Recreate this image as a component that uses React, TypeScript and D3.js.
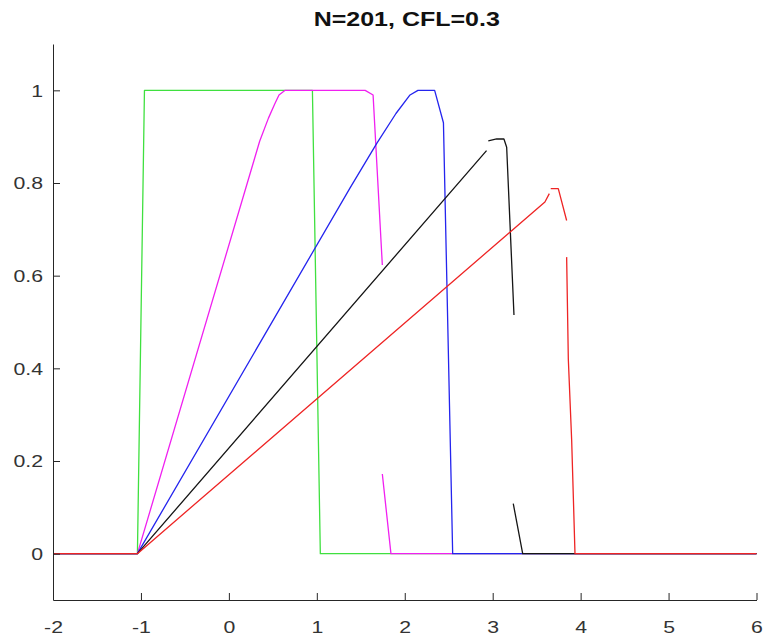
import React, { useRef, useEffect } from 'react';
import * as d3 from 'd3';

type Pt = [number, number] | null;

const title = 'N=201, CFL=0.3';
const xTicks = [-2, -1, 0, 1, 2, 3, 4, 5, 6];
const yTicks = [0, 0.2, 0.4, 0.6, 0.8, 1];

// null marks a break in the plotted line
const greenPts: Pt[] = [[-2, 0], [-1.04, 0], [-0.96, 1], [0.95, 1], [1.04, 0], [6, 0]];
const magentaPts: Pt[] = [
  [-2, 0], [-1.04, 0], [0.35, 0.89], [0.45, 0.94], [0.52, 0.97], [0.57, 0.99], [0.64, 1],
  [1.55, 1], [1.64, 0.99], [1.745, 0.623], null, [1.745, 0.172], [1.843, 0], [6, 0],
];
const bluePts: Pt[] = [
  [-2, 0], [-1.04, 0], [1.38, 0.79], [1.68, 0.885], [1.9, 0.95], [2.06, 0.99], [2.15, 1],
  [2.34, 1], [2.44, 0.93], [2.545, 0], [6, 0],
];
const blackPts: Pt[] = [
  [-2, 0], [-1.04, 0], [2.93, 0.87], null, [2.95, 0.891], [3.045, 0.895], [3.128, 0.895],
  [3.159, 0.877], [3.242, 0.515], null, [3.234, 0.108], [3.341, 0], [6, 0],
];
const redPts: Pt[] = [
  [-2, 0], [-1.04, 0], [3.594, 0.759], [3.644, 0.777], null, [3.66, 0.788], [3.746, 0.788],
  [3.841, 0.719], null, [3.841, 0.64], [3.86, 0.42], [3.898, 0.246], [3.936, 0], [6, 0],
];

const series = [
  { pts: greenPts, color: '#3fe03f' },
  { pts: magentaPts, color: '#f020f0' },
  { pts: bluePts, color: '#2424ee' },
  { pts: blackPts, color: '#151515' },
  { pts: redPts, color: '#ee2424' },
];

const W = 767, H = 638;
const stretch = 1.25; // the reference text is horizontally stretched
const font = '"Liberation Sans", Arial, Helvetica, sans-serif';

export default function App() {
  const svgRef = useRef<SVGSVGElement>(null);

  useEffect(() => {
    const svg = d3.select(svgRef.current);
    svg.selectAll('*').remove();

    const x = d3.scaleLinear().domain([-2, 6]).range([53, 756.5]);
    const y = d3.scaleLinear().domain([-0.1, 1.1]).range([600, 44]);

    const line = d3.line<Pt>()
      .defined(d => d != null)
      .x(d => x((d as [number, number])[0]))
      .y(d => y((d as [number, number])[1]));

    series.forEach(s => {
      svg.append('path')
        .datum(s.pts)
        .attr('fill', 'none')
        .attr('stroke', s.color)
        .attr('stroke-width', 1.3)
        .attr('stroke-linejoin', 'round')
        .attr('d', line);
    });

    const axisColor = '#262626';

    const gx = svg.append('g').attr('transform', `translate(0,${y(-0.1)})`)
      .call(d3.axisBottom(x).tickValues(xTicks).tickSizeInner(-7).tickSizeOuter(0).tickFormat(d => String(+d)));
    const gy = svg.append('g').attr('transform', `translate(${x(-2)},0)`)
      .call(d3.axisLeft(y).tickValues(yTicks).tickSizeInner(-7).tickSizeOuter(0).tickFormat(d => String(+d)));

    [gx, gy].forEach(g => {
      g.select('.domain').attr('stroke', axisColor);
      g.selectAll('.tick line').attr('stroke', axisColor);
      g.selectAll('text').attr('fill', '#333').style('font-family', font).style('font-size', '17px');
    });
    gx.selectAll('.tick text').attr('y', 0).attr('dy', '33px').attr('transform', `scale(${stretch},1)`);
    gy.selectAll('.tick text').attr('x', -10 / stretch).attr('dy', '0.35em').attr('transform', `scale(${stretch},1)`);

    svg.append('text')
      .attr('transform', `translate(${(x(-2) + x(6)) / 2 + 2},26) scale(${stretch},1)`)
      .attr('text-anchor', 'middle')
      .style('font-family', font)
      .style('font-size', '20px')
      .style('font-weight', 'bold')
      .attr('fill', '#111')
      .text(title);
  }, []);

  return (
    <svg ref={svgRef} width={W} height={H}
      style={{ position: 'absolute', left: 0, top: 0, background: '#fff' }} />
  );
}
